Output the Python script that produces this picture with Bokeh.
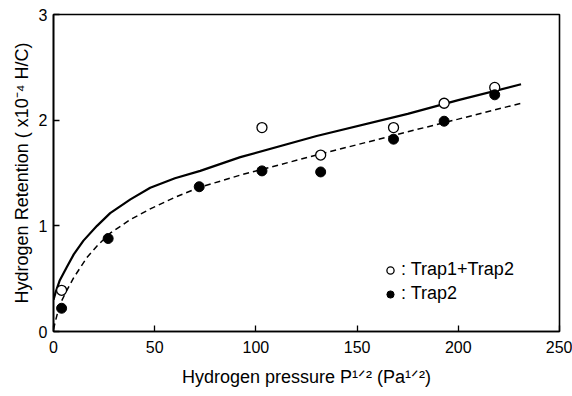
from bokeh.plotting import figure
from bokeh.models import FixedTicker, Legend, LegendItem
from bokeh.embed import file_html
from bokeh.resources import INLINE

# ---- data ----
open_x = [4, 103, 132, 168, 193, 218]
open_y = [0.39, 1.93, 1.67, 1.93, 2.16, 2.31]          # Trap1+Trap2
filled_x = [4, 27, 72, 103, 132, 168, 193, 218]
filled_y = [0.22, 0.88, 1.37, 1.52, 1.51, 1.82, 1.99, 2.24]  # Trap2

solid_x = [0, 1.2, 3, 6.6, 10, 14.8, 21.5, 28, 38, 47.8, 60, 72.5, 92.3, 130, 175, 200, 231]
solid_y = [0.30, 0.38, 0.48, 0.61, 0.73, 0.86, 1.00, 1.12, 1.25, 1.36, 1.45, 1.52, 1.65, 1.85, 2.06, 2.19, 2.34]
dash_x = [0, 0.85, 3, 6.6, 10, 16.5, 22, 28, 38, 47.8, 60, 71.5, 92.3, 130, 175, 200, 231]
dash_y = [0.02, 0.09, 0.25, 0.39, 0.51, 0.70, 0.82, 0.93, 1.06, 1.16, 1.27, 1.36, 1.48, 1.67, 1.89, 2.01, 2.16]

x_ticks = [0, 50, 100, 150, 200, 250]
y_ticks = [0, 1, 2, 3]
legend_labels = [": Trap1+Trap2", ": Trap2"]
x_title = "Hydrogen pressure P\u00b9\u141f\u00b2 (Pa\u00b9\u141f\u00b2)"
y_title = "Hydrogen Retention ( x10\u207b\u2074 H/C)"

FONT = "Liberation Sans"

p = figure(width=572, height=396, x_range=(0, 250), y_range=(0, 3),
           output_backend="svg", toolbar_location=None,
           min_border_left=53, min_border_right=13, min_border_top=14, min_border_bottom=65)

p.background_fill_color = "white"
p.border_fill_color = "white"
p.grid.visible = False
p.outline_line_color = "black"
p.outline_line_width = 1.6
p.outline_line_alpha = 1.0

p.xaxis.ticker = FixedTicker(ticks=x_ticks)
p.yaxis.ticker = FixedTicker(ticks=y_ticks)
for ax in (p.xaxis[0], p.yaxis[0]):
    ax.major_tick_in = 6
    ax.major_tick_out = 0
    ax.minor_tick_line_color = None
    ax.axis_line_width = 1.6
    ax.axis_line_color = "black"
    ax.major_tick_line_color = "black"
    ax.major_tick_line_width = 1.3
    ax.major_label_text_font = FONT
    ax.major_label_text_font_size = "16px"
    ax.major_label_text_color = "black"
    ax.axis_label_text_font = FONT
    ax.axis_label_text_font_size = "18px"
    ax.axis_label_text_font_style = "normal"
    ax.axis_label_text_color = "black"
p.xaxis.major_label_standoff = 9
p.yaxis.major_label_standoff = 6
p.xaxis.axis_label = x_title
p.yaxis.axis_label = y_title
p.xaxis.axis_label_standoff = 11
p.yaxis.axis_label_standoff = 4

p.line(solid_x, solid_y, line_color="black", line_width=2.2)
p.line(dash_x, dash_y, line_color="black", line_width=1.5, line_dash="6 4")

r_open = p.scatter(open_x, open_y, marker="circle", size=10,
                   fill_color="white", line_color="black", line_width=1.3)
r_fill = p.scatter(filled_x, filled_y, marker="circle", size=10,
                   fill_color="black", line_color="black", line_width=1.0)

legend = Legend(items=[LegendItem(label=legend_labels[0], renderers=[r_open]),
                       LegendItem(label=legend_labels[1], renderers=[r_fill])],
                location=(328, 27), padding=0, margin=0, spacing=3,
                glyph_width=18, glyph_height=18, label_height=18, label_standoff=2,
                label_text_font=FONT, label_text_font_size="18px",
                label_text_color="black",
                background_fill_alpha=0, border_line_alpha=0)
p.add_layout(legend)

open("out.html", "w").write(file_html(p, INLINE))
